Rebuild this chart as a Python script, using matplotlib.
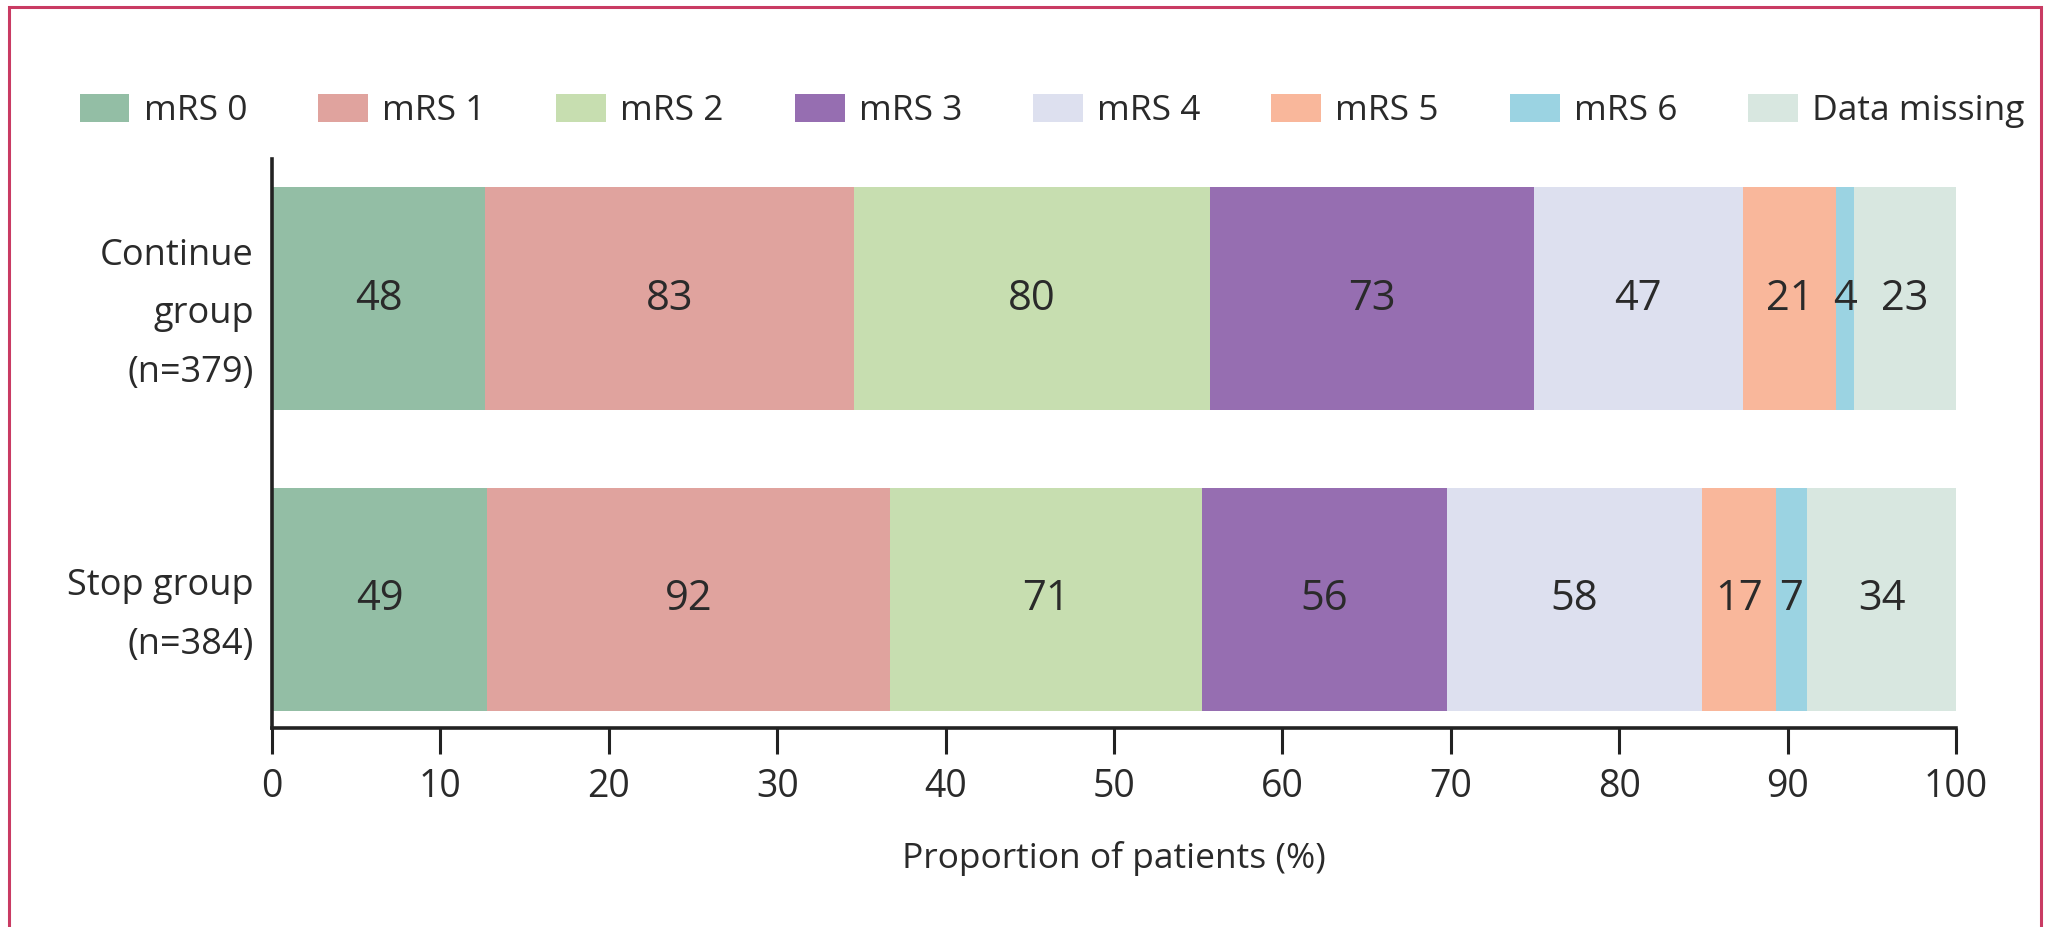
import matplotlib
matplotlib.use('Agg')
import matplotlib.pyplot as plt
from matplotlib.patches import Rectangle
import numpy as np

plt.rcParams['font.family'] = ['Open Sans', 'DejaVu Sans']

groups = ['Continue\ngroup\n(n=379)', 'Stop group\n(n=384)']
group_n = [379, 384]
categories = ['mRS 0', 'mRS 1', 'mRS 2', 'mRS 3', 'mRS 4', 'mRS 5', 'mRS 6', 'Data missing']
continue_counts = [48, 83, 80, 73, 47, 21, 4, 23]
stop_counts = [49, 92, 71, 56, 58, 17, 7, 34]
colors = ['#93bea5', '#e0a39e', '#c7deb0', '#966eb1', '#dde0ef', '#f9b79b', '#9bd3e2', '#d8e7e0']
xticks = [0, 10, 20, 30, 40, 50, 60, 70, 80, 90, 100]

text_color = '#2a2a2a'

fig = plt.figure(figsize=(20.48, 9.27), dpi=100)
ax = fig.add_axes([272 / 2048, 1 - 728 / 927, 1684 / 2048, 569 / 927])

counts = np.array([continue_counts, stop_counts])
pct = counts / np.array(group_n)[:, None] * 100
left = np.zeros(len(groups))
ypos = np.arange(len(groups))
for i, cat in enumerate(categories):
    bars = ax.barh(ypos, pct[:, i], left=left, height=0.744, color=colors[i],
                   edgecolor='none', label=cat)
    ax.bar_label(bars, labels=[str(c) for c in counts[:, i]], label_type='center',
                 fontsize=30, color=text_color)
    left += pct[:, i]

ax.set_xlim(0, 100)
ax.set_ylim(1.427, -0.4635)
ax.set_xticks(xticks)
ax.set_yticks(ypos)
ax.set_yticklabels(groups, fontsize=26, color=text_color, ha='right',
                   multialignment='right', linespacing=1.85)
ax.tick_params(axis='y', length=0, pad=13)
ax.tick_params(axis='x', length=19, width=2.2, color='#222222', pad=10,
               labelsize=27, labelcolor=text_color)
for s in ['top', 'right']:
    ax.spines[s].set_visible(False)
for s in ['left', 'bottom']:
    ax.spines[s].set_linewidth(2.6)
    ax.spines[s].set_color('#222222')
ax.set_xlabel('Proportion of patients (%)', fontsize=25.5, color=text_color, labelpad=25)

fig.legend(loc='center left', bbox_to_anchor=(79.5 / 2048, 1 - 111 / 927), ncol=8,
           frameon=False, fontsize=25.5, borderpad=0, borderaxespad=0,
           handlelength=1.41, handleheight=0.86, handletextpad=0.4,
           columnspacing=2.0, labelcolor=text_color)

# red frame around the panel
fig.patches.append(Rectangle((9 / 2048, -0.05), (2041 - 9) / 2048, 1.05 - 7 / 927,
                             transform=fig.transFigure, fill=False,
                             edgecolor='#c93b63', linewidth=2.2))

fig.savefig('out.png', dpi=100)
